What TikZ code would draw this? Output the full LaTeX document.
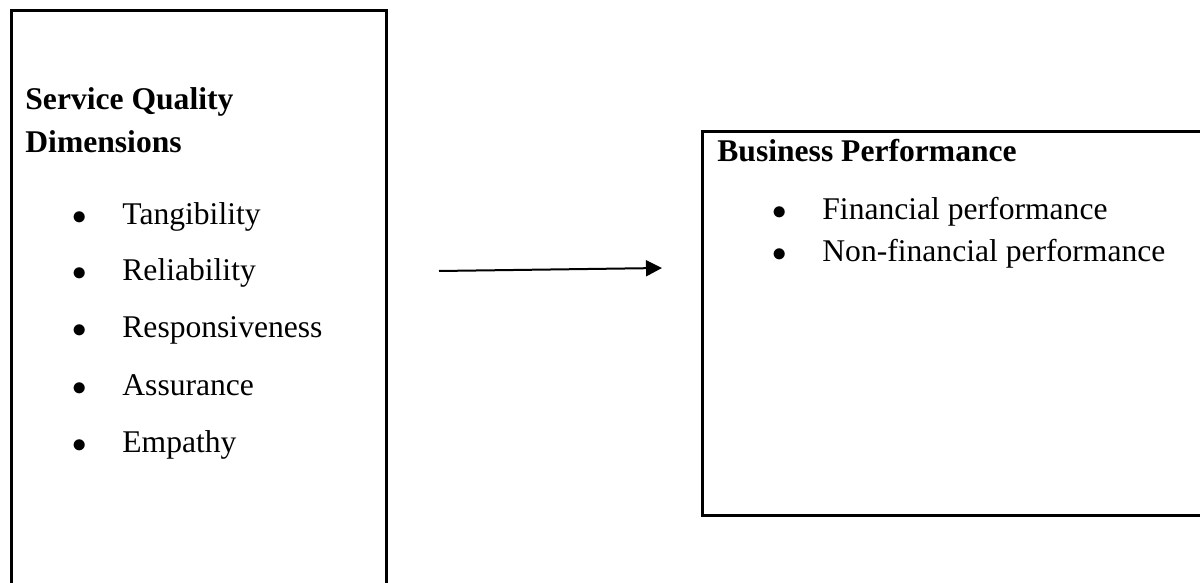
\documentclass[tikz,border=0pt]{standalone}
\usepackage{fontspec}
\setmainfont{Liberation Serif}
\usetikzlibrary{arrows.meta,positioning}
\tikzset{box/.style={draw=black,line width=1.5pt,inner sep=0pt}}
\tikzset{heading/.style={anchor=base west,inner sep=0pt,font=\fontsize{15.8pt}{19pt}\selectfont\bfseries}}
\tikzset{item/.style={anchor=base west,inner sep=0pt,font=\fontsize{15.8pt}{19pt}\selectfont}}
\tikzset{arrow/.style={-{Triangle[length=8pt,width=8pt]},line width=1pt}}
\newcommand{\bitem}[1]{\makebox[25pt][l]{$\bullet$}#1}

\begin{document}
\begin{tikzpicture}[x=0.5pt,y=-0.5pt]
\useasboundingbox (0,0) rectangle (1200,583);
\clip (0,0) rectangle (1200,583);
% boxes
\node (sqbox) [box,minimum width=187.5pt,minimum height=309pt] at (198.5,320) {};
\node (bpbox) [box,minimum width=269pt,minimum height=191.5pt] at (971,323.5) {};
%
\node (sqhead1) [heading] at (25,110) {Service Quality};
\node (sqhead2) [heading] at (25,153) {Dimensions};
\node (sq1) [item] at (72,224) {\bitem{Tangibility}};
\node (sq2) [item] at (72,280) {\bitem{Reliability}};
\node (sq3) [item] at (72,337) {\bitem{Responsiveness}};
\node (sq4) [item] at (72,395) {\bitem{Assurance}};
\node (sq5) [item] at (72,452) {\bitem{Empathy}};
%
\node (bphead) [heading] at (717,162) {Business Performance};
\node (bp1) [item] at (772,220) {\bitem{Financial performance}};
\node (bp2) [item] at (772,261) {\bitem{Non-financial performance}};
%
\coordinate (arrtail) at (439,271);
\coordinate (arrhead) at (662,268);
\draw[arrow] (arrtail) -- (arrhead);
\end{tikzpicture}
\end{document}
